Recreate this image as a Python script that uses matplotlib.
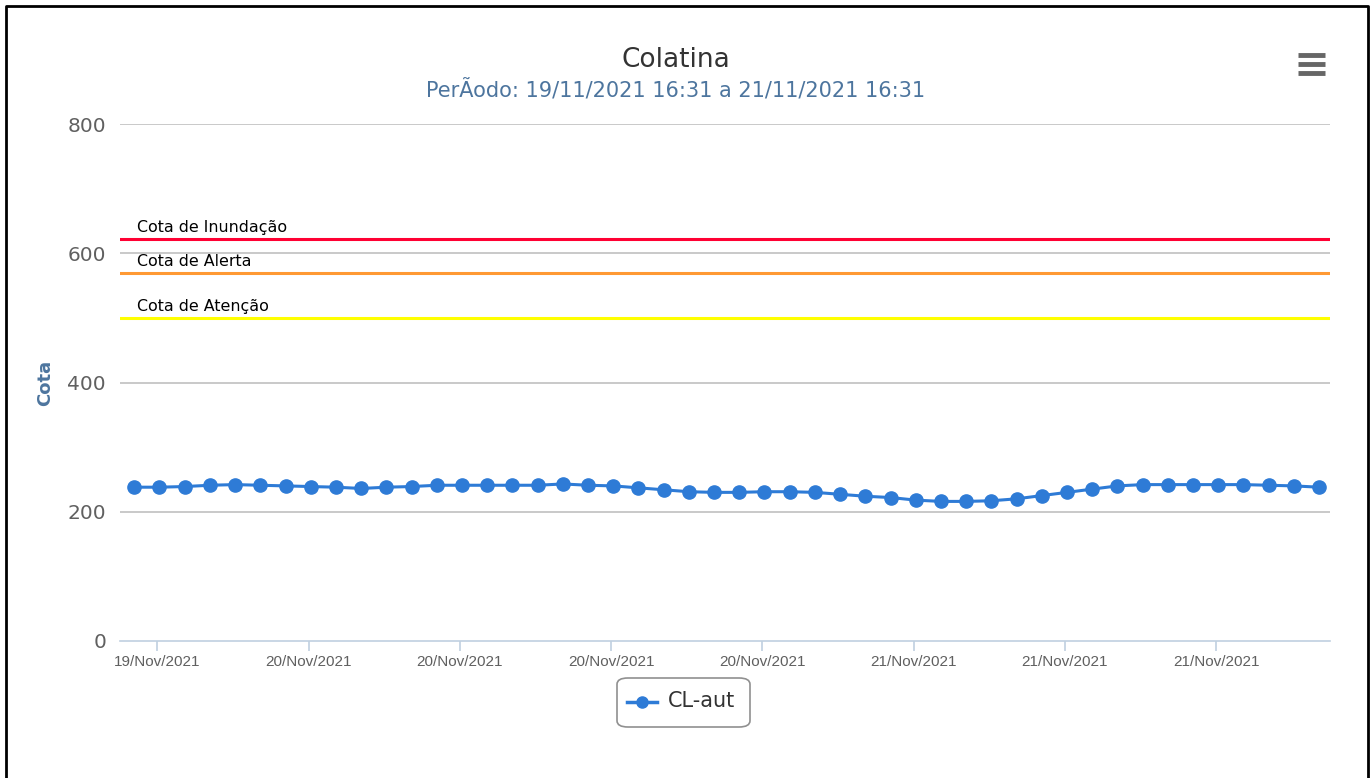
import numpy as np
import pandas as pd
import matplotlib
matplotlib.use("Agg")
import matplotlib.pyplot as plt
import matplotlib.dates as mdates
from matplotlib.patches import FancyBboxPatch
from matplotlib.lines import Line2D

# data
start = "2021-11-19 17:05"
cota = [238, 238, 239, 241, 242, 241, 240, 239, 238, 236, 238, 239, 241, 241, 241, 241, 241, 243, 241,
        240, 237, 234, 231, 230, 230, 231, 231, 230, 227, 224, 222, 218, 216, 216, 217, 220, 225, 230,
        235, 240, 242, 242, 242, 242, 242, 241, 240, 238]
times = pd.date_range(start, periods=len(cota), freq="h")

ref_names = ["Cota de Inundação", "Cota de Alerta", "Cota de Atenção"]
ref_values = [622, 570, 500]
ref_colors = ["#FF0033", "#FF9933", "#FFFF00"]

yticks = [0, 200, 400, 600, 800]

plt.rcParams['font.family'] = ['DejaVu Sans']

fig = plt.figure(figsize=(13.7, 7.78), dpi=100)
ax = fig.add_axes([120/1370, 1-641/778, 1210/1370, 517/778])

t0 = pd.Timestamp("2021-11-19 16:31")
t1 = pd.Timestamp("2021-11-21 16:31")
ax.set_xlim(t0, t1)
ax.set_ylim(0, 800)

for v in yticks[1:]:
    ax.axhline(v, color="#C0C0C0", lw=1.2, zorder=1)

for name, v, c in zip(ref_names, ref_values, ref_colors):
    ax.axhline(v, color=c, lw=2.2, zorder=2)
    ax.text(t0 + pd.Timedelta(minutes=40), v + 6, name, fontsize=11.4, color="black",
            va="bottom", ha="left", zorder=3)

ax.plot(times, cota, color="#2E7BD6", lw=2.2, marker="o", markersize=9.5, zorder=4)

for s in ["top", "right", "left"]:
    ax.spines[s].set_visible(False)
ax.spines["bottom"].set_color("#C0D0E0")
ax.spines["bottom"].set_linewidth(1.2)

ax.set_yticks(yticks)
ax.tick_params(axis="y", length=0, pad=10, labelsize=14.5, labelcolor="#606060")
ax.xaxis.set_major_locator(mdates.HourLocator(byhour=[0, 6, 12, 18]))
ax.xaxis.set_major_formatter(mdates.DateFormatter("%d/%b/%Y"))
ax.tick_params(axis="x", length=7, width=1.2, color="#C0D0E0", labelsize=11,
               labelcolor="#606060", pad=3)
for lab in ax.get_xticklabels():
    lab.set_family(["Liberation Sans", "DejaVu Sans"])

ax.set_ylabel("Cota", fontsize=13, fontweight="bold", color="#4D759E")
ax.yaxis.set_label_coords(-66/1210, 0.5)

fig.text(676/1370, 1-60/778, "Colatina", ha="center", va="center", fontsize=19, color="#333333")
fig.text(676/1370, 1-90/778, "PerÃodo: 19/11/2021 16:31 a 21/11/2021 16:31", ha="center",
         va="center", fontsize=15, color="#4D759E")

# legend box
box = FancyBboxPatch((617/1370, 1-727/778), 133/1370, 49/778,
                     boxstyle="round,pad=0,rounding_size=0.008", transform=fig.transFigure,
                     facecolor="white", edgecolor="#909090", lw=1.2)
fig.add_artist(box)
fig.add_artist(Line2D([627/1370, 657/1370], [1-702/778, 1-702/778], color="#2E7BD6", lw=2.5,
                      transform=fig.transFigure))
fig.add_artist(Line2D([642/1370], [1-702/778], color="#2E7BD6", marker="o", markersize=8,
                      transform=fig.transFigure))
fig.text(668/1370, 1-701/778, "CL-aut", ha="left", va="center", fontsize=15, color="#333333")

# menu icon
for yy in [55, 64, 73]:
    fig.add_artist(Line2D([1298/1370, 1325/1370], [1-yy/778, 1-yy/778], color="#666666", lw=3.5,
                          transform=fig.transFigure, solid_capstyle="butt"))

# outer frame (left, top, right)
fig.add_artist(Line2D([6/1370, 6/1370, 1368/1370, 1368/1370], [0, 1-6/778, 1-6/778, 0],
                      color="black", lw=2, transform=fig.transFigure))

fig.savefig("out.png", dpi=100)
